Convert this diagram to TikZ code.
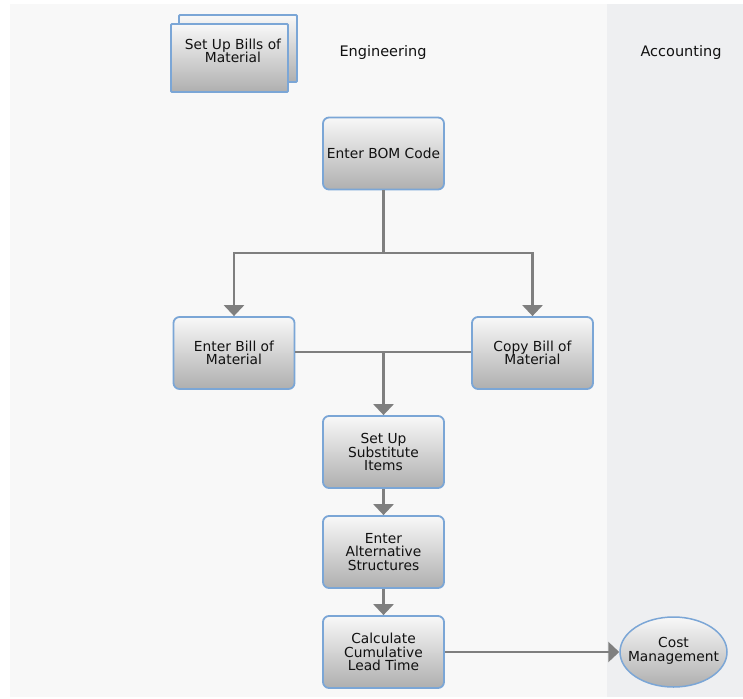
\documentclass[tikz,border=0pt]{standalone}
\usepackage{fontspec}
\setmainfont{DejaVu Sans}
\usetikzlibrary{arrows.meta,shapes.geometric}
\definecolor{laneA}{HTML}{F8F8F8}
\definecolor{laneB}{HTML}{EEEFF1}
\definecolor{boxborder}{HTML}{7BA6D6}
\definecolor{boxtop}{HTML}{F8F8F8}
\definecolor{boxbot}{HTML}{AFAFAF}
\definecolor{conncol}{HTML}{7F7F7F}
\definecolor{txt}{HTML}{111111}
\begin{document}
\begin{tikzpicture}[x=1pt,y=-1pt,
  lbl/.style={font=\fontsize{14.5}{13.5}\selectfont, text=txt, align=center, inner sep=0pt},
  box/.style={draw=boxborder, line width=1.8pt, rounded corners=6pt,
    top color=boxtop, bottom color=boxbot, minimum width=121pt, minimum height=72pt,
    align=center, text=txt, font=\fontsize{13.8}{13.5}\selectfont, inner sep=2pt},
  sqbox/.style={draw=boxborder, line width=1.8pt, rounded corners=1pt,
    top color=boxtop, bottom color=boxbot, inner sep=0pt},
  ell/.style={ellipse, draw=boxborder, line width=1.5pt,
    top color=boxtop, bottom color=boxbot, minimum width=107pt, minimum height=70pt,
    inner sep=0pt},
  conn/.style={draw=conncol, line width=2.6pt},
  arr/.style={conn, -{Triangle[width=20pt,length=11pt]}}
]
\useasboundingbox (0,0) rectangle (743,698);
\fill[white] (0,0) rectangle (743,698);
\fill[laneA] (10,4) rectangle (607,697);
\fill[laneB] (607,4) rectangle (743,697);

% lane titles
\node[lbl] (eng) at (383,53) {Engineering};
\node[lbl] (acc) at (681,53) {Accounting};

% stacked process box
\node[sqbox, minimum width=118pt, minimum height=67pt] (setupback) at (238,48.5) {};
\node[sqbox, minimum width=117pt, minimum height=68pt] (setup) at (229.5,58) {};
\node[lbl, font=\fontsize{13.8}{13.5}\selectfont] (setuptext) at (233,51) {Set Up Bills of\\Material};

% process boxes
\node[box] (bom) at (383.5,153.5) {Enter BOM Code};
\node[box] (enterbill) at (234,353) {Enter Bill of\\Material};
\node[box] (copybill) at (532.5,353) {Copy Bill of\\Material};
\node[box] (subst) at (383.5,452) {Set Up\\Substitute\\Items};
\node[box] (alt) at (383.5,552) {Enter\\Alternative\\Structures};
\node[box] (calc) at (383.5,652) {Calculate\\Cumulative\\Lead Time};
\node[ell] (cost) at (673.5,652) {};
\node[lbl, font=\fontsize{13.8}{13.5}\selectfont] (costtext) at (673.5,651) {Cost\\Management};

% connectors
\coordinate (j1) at (383.5,253);
\coordinate (j2) at (383.5,352);
\draw[conn] (bom.south) -- (j1);
\draw[arr] (j1) -| (enterbill.north);
\draw[arr] (j1) -| (copybill.north);
\draw[conn] (enterbill.east |- j2) -- (copybill.west |- j2);
\draw[arr] (j2) -- (subst.north);
\draw[arr] (subst.south) -- (alt.north);
\draw[arr] (alt.south) -- (calc.north);
\draw[arr] (calc.east) -- (calc.east -| cost.west);
\end{tikzpicture}
\end{document}
